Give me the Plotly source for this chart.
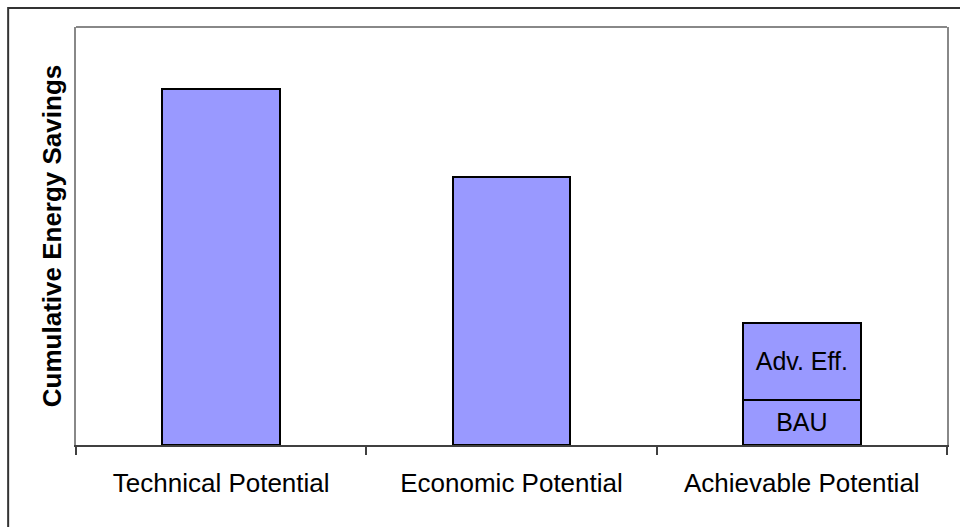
import plotly.graph_objects as go

categories = ["Technical Potential", "Economic Potential", "Achievable Potential"]
base_values = [85.2, 64.1, 10.8]          # BAU / total for first two
adv_values = [0, 0, 18.4]                 # Advanced efficiency increment
base_text = ["", "", "BAU"]
adv_text = ["", "", "Adv. Eff."]

fill = "#9999FF"
font = "Liberation Sans, Arial, sans-serif"

fig = go.Figure()
fig.add_trace(go.Bar(
    x=categories, y=base_values, width=0.405,
    marker=dict(color=fill, line=dict(color="black", width=2)),
    text=base_text, textposition="inside", insidetextanchor="middle",
    textfont=dict(size=25, color="black", family=font),
    constraintext="none", showlegend=False, hoverinfo="skip",
))
fig.add_trace(go.Bar(
    x=categories, y=adv_values, width=0.405,
    marker=dict(color=fill, line=dict(color="black", width=2)),
    text=adv_text, textposition="inside", insidetextanchor="middle",
    textfont=dict(size=25, color="black", family=font),
    constraintext="none", showlegend=False, hoverinfo="skip",
))

pw, ph = 873, 418
fig.update_layout(
    barmode="stack",
    width=960, height=527,
    margin=dict(l=76, r=11, t=27, b=82),
    paper_bgcolor="white", plot_bgcolor="white",
    font=dict(family=font, size=26, color="black"),
    xaxis=dict(
        showline=True, linecolor="#404040", linewidth=2,
        ticks="outside", tickson="boundaries", ticklen=8, tickcolor="#404040", tickwidth=2,
        tickfont=dict(size=26, color="black"), ticklabelstandoff=14,
        showgrid=False, zeroline=False,
    ),
    yaxis=dict(
        range=[0, 100], showticklabels=False, ticks="", showgrid=False, zeroline=False,
        showline=True, linecolor="#888888", linewidth=2, mirror=True,
        title=dict(text="<b>Cumulative Energy Savings</b>", font=dict(size=26, color="black"), standoff=5),
    ),
    shapes=[
        dict(type="line", xref="paper", yref="paper", x0=0, x1=1, y0=1, y1=1,
             line=dict(color="#888888", width=2), layer="above"),
        dict(type="rect", xref="paper", yref="paper",
             x0=-68 / pw, x1=1.1, y0=-0.4, y1=1 + 19 / ph,
             line=dict(color="#333333", width=2), fillcolor="rgba(0,0,0,0)", layer="above"),
    ],
)

fig.write_html("out.html")
